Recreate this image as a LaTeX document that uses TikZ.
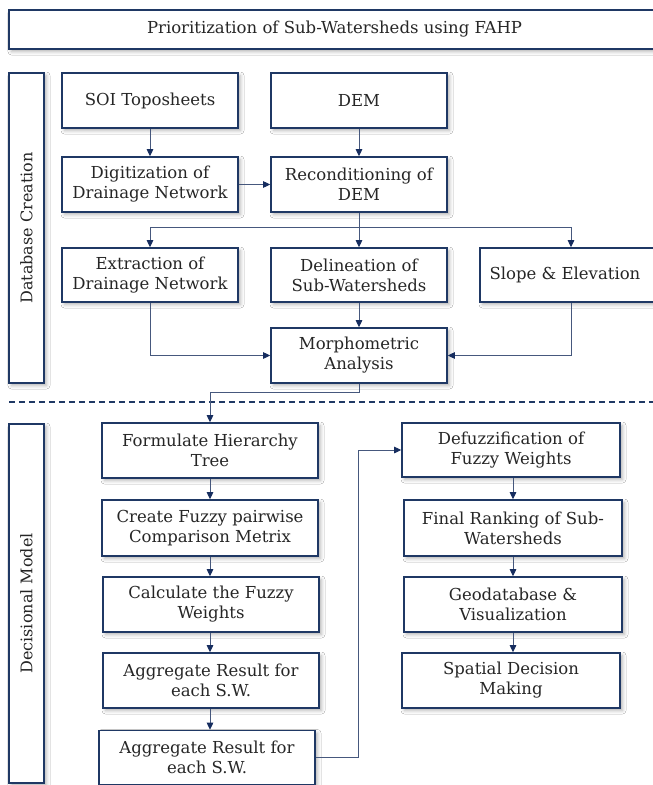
\documentclass[tikz,border=0pt]{standalone}
\usepackage{fontspec}
\setmainfont{DejaVu Serif}
\usetikzlibrary{arrows.meta,shadows.blur,calc}
\definecolor{navy}{RGB}{31,56,100}
\definecolor{lnk}{RGB}{70,88,125}
\definecolor{tipc}{RGB}{22,45,95}
\begin{document}
\begin{tikzpicture}[x=1pt,y=-1pt,
  box/.style={draw=navy, line width=1.6pt, fill=white, align=center, inner sep=1pt,
    font=\fontsize{16.5}{20}\selectfont, text=black!85,
    blur shadow={shadow xshift=2.5pt, shadow yshift=-2.5pt, shadow blur radius=3.5pt, shadow opacity=30}},
  side/.style={font=\fontsize{16}{20}\selectfont, rotate=90, text=black!85},
  link/.style={draw=lnk, line width=0.9pt, -{Triangle[length=7pt,width=6.5pt,fill=tipc,color=tipc]}},
  plain/.style={draw=lnk, line width=0.9pt}
]
\useasboundingbox (0,0) rectangle (653,785);
\fill[white] (0,0) rectangle (653,785);

% title
\node[box, minimum width=651pt, minimum height=39pt] (title) at (334.5,29.5) {Prioritization of Sub-Watersheds using FAHP};

% side boxes
\node[box, minimum width=35pt, minimum height=310pt] (dbc) at (26.5,228) {};
\node[side] (dbcl) at (dbc.center) {Database Creation};
\node[box, minimum width=35pt, minimum height=359pt] (dmod) at (26.5,603.5) {};
\node[side] (dmodl) at (dmod.center) {Decisional Model};

% database creation
\node[box, minimum width=176pt, minimum height=55pt] (soi) at (150,100.5) {SOI Toposheets};
\node[box, minimum width=176pt, minimum height=55pt] (dem) at (359,100.5) {DEM};
\node[box, minimum width=176pt, minimum height=55pt] (dig) at (150,184.5) {Digitization of\\Drainage Network};
\node[box, minimum width=176pt, minimum height=55pt] (rec) at (359,184.5) {Reconditioning of\\DEM};
\node[box, minimum width=176pt, minimum height=54pt] (ext) at (150,275) {Extraction of\\Drainage Network};
\node[box, minimum width=176pt, minimum height=54pt] (del) at (359,275) {Delineation of\\Sub-Watersheds};
\node[box, minimum width=182pt, minimum height=54pt] (slope) at (571,275) {\hspace*{-6pt}Slope \& Elevation\hspace*{6pt}};
\node[box, minimum width=176pt, minimum height=55pt] (morph) at (359,355.5) {Morphometric\\Analysis};

% dashed separator
\coordinate (dl) at (9,402);
\coordinate (dr) at (653,402);
\draw[navy, line width=1.8pt, dash pattern=on 6pt off 4pt] (dl) -- (dr);

% decisional model
\node[box, minimum width=216pt, minimum height=55pt] (form) at (210,450.5) {Formulate Hierarchy\\Tree};
\node[box, minimum width=216pt, minimum height=56pt] (create) at (210,528) {Create Fuzzy pairwise\\Comparison Metrix};
\node[box, minimum width=216pt, minimum height=55pt] (calc) at (211,604.5) {Calculate the Fuzzy\\Weights};
\node[box, minimum width=216pt, minimum height=55pt] (agg1) at (211,680.5) {Aggregate Result for\\each S.W.};
\node[box, minimum width=216pt, minimum height=54pt] (agg2) at (207,757.5) {Aggregate Result for\\each S.W.};
\node[box, minimum width=218pt, minimum height=54pt] (defuz) at (511,450) {Defuzzification of\\Fuzzy Weights};
\node[box, minimum width=218pt, minimum height=56pt] (final) at (513,528) {Final Ranking of Sub-\\Watersheds};
\node[box, minimum width=218pt, minimum height=55pt] (geo) at (513,604.5) {Geodatabase \&\\Visualization};
\node[box, minimum width=218pt, minimum height=55pt] (spat) at (511,680.5) {Spatial Decision\\Making};

% connectors (database creation)
\draw[link] (soi.south) -- (dig.north);
\draw[link] (dem.south) -- (rec.north);
\draw[link] (dig.east) -- (rec.west);
\draw[plain] (rec.south) -- ++(0,15) coordinate (br);
\draw[link] (br) -| (ext.north);
\draw[link] (br) -- (del.north);
\draw[link] (br) -| (slope.north);
\draw[link] (del.south) -- (morph.north);
\draw[link] (ext.south) |- (morph.west);
\draw[link] (slope.south) |- (morph.east);
\draw[link] (morph.south) -- ++(0,9) -| (form.north);

% connectors (decisional model)
\draw[link] (form.south) -- (form.south |- create.north);
\draw[link] (form.south |- create.south) -- (form.south |- calc.north);
\draw[link] (form.south |- calc.south) -- (form.south |- agg1.north);
\draw[link] (form.south |- agg1.south) -- (form.south |- agg2.north);
\draw[link] (agg2.east) -- ++(43,0) |- (defuz.west);
\draw[link] (final.north |- defuz.south) -- (final.north);
\draw[link] (final.south) -- (geo.north);
\draw[link] (geo.south) -- (geo.south |- spat.north);
\end{tikzpicture}
\end{document}
